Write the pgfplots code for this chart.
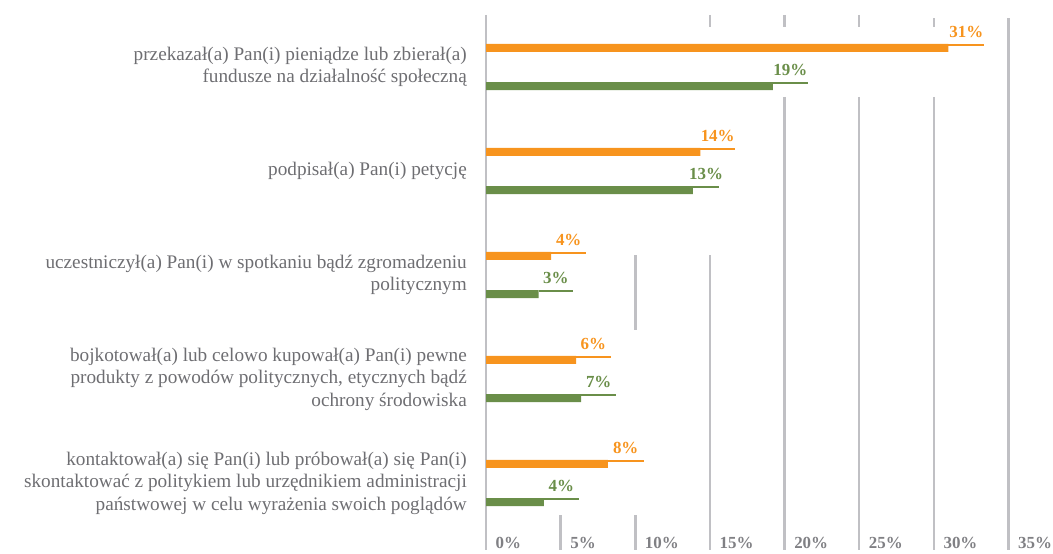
\documentclass[border=0pt]{standalone}
\usepackage{pgfplots}
\pgfplotsset{compat=1.18}
\usepackage{pgfplotstable}
\usepackage{fontspec}
\setmainfont{Liberation Serif}
\definecolor{orangeC}{RGB}{247,148,30}
\definecolor{greenC}{RGB}{106,142,73}
\definecolor{gridC}{RGB}{192,192,196}
\definecolor{catC}{RGB}{110,110,114}
\definecolor{tickC}{RGB}{128,128,132}

% bars: value (as drawn) and vertical position (category 1 at y=4 ... category 5 at y=0)
\pgfplotstableread{
v y
30.98 4.183
14.36 3.183
4.37 2.183
6.03 1.183
8.16 0.183
}\orangebars
\pgfplotstableread{
v y
19.22 3.817
13.86 2.817
3.52 1.817
6.38 0.817
3.88 -0.183
}\greenbars
% label leader lines: centre x, y, half length, label value
\pgfplotstableread{
x y e lab
32.17 4.209 1.19 31
15.52 3.209 1.16 14
5.54 2.209 1.16 4
7.19 1.209 1.15 6
9.36 0.209 1.20 8
}\orangelab
\pgfplotstableread{
x y e lab
20.39 3.843 1.17 19
14.74 2.843 0.87 13
4.68 1.843 1.16 3
7.55 0.843 1.18 7
5.05 -0.157 1.16 4
}\greenlab

\begin{document}
\begin{tikzpicture}
\path[use as bounding box] (0,0) rectangle (1053bp,554bp);
\begin{axis}[
  at={(486bp,4bp)}, anchor=south west,
  scale only axis, width=522.5bp, height=535bp,
  xmin=0, xmax=35, ymin=-0.644, ymax=4.5,
  axis line style={draw=none},
  major tick length=0pt,
  xtick={0,5,10,15,20,25,30,35},
  xticklabels={0\%,5\%,10\%,15\%,20\%,25\%,30\%,35\%},
  xticklabel style={anchor=base west, inner sep=0pt, xshift=9.5bp, yshift=2bp,
    font=\bfseries\fontsize{17}{20}\selectfont, text=tickC},
  ytick={0,1,2,3,4},
  yticklabels={
    {kontaktował(a) się Pan(i) lub próbował(a) się Pan(i)\\skontaktować z politykiem lub urzędnikiem administracji\\państwowej w celu wyrażenia swoich poglądów},
    {bojkotował(a) lub celowo kupował(a) Pan(i) pewne\\produkty z powodów politycznych, etycznych bądź\\ochrony środowiska},
    {uczestniczył(a) Pan(i) w spotkaniu bądź zgromadzeniu\\politycznym},
    {podpisał(a) Pan(i) petycję},
    {przekazał(a) Pan(i) pieniądze lub zbierał(a)\\fundusze na działalność społeczną}},
  yticklabel style={anchor=east, align=right, inner sep=0pt, xshift=-19bp,
    font=\fontsize{19.3}{22.5}\selectfont, text=catC},
  clip=false,
]
% interrupted grid lines
\draw[gridC, line width=2.5bp] (axis cs:0,4.5) -- (axis cs:0,-0.644);
\draw[gridC, line width=2.5bp] (axis cs:5,-0.308) -- (axis cs:5,-0.644);
\draw[gridC, line width=2.5bp] (axis cs:10,2.192) -- (axis cs:10,1.471);
\draw[gridC, line width=2.5bp] (axis cs:10,-0.308) -- (axis cs:10,-0.644);
\draw[gridC, line width=2.5bp] (axis cs:15,4.5) -- (axis cs:15,4.385);
\draw[gridC, line width=2.5bp] (axis cs:15,2.192) -- (axis cs:15,-0.644);
\draw[gridC, line width=2.5bp] (axis cs:20,4.5) -- (axis cs:20,4.385);
\draw[gridC, line width=2.5bp] (axis cs:20,3.712) -- (axis cs:20,-0.644);
\draw[gridC, line width=2.5bp] (axis cs:25,4.5) -- (axis cs:25,4.385);
\draw[gridC, line width=2.5bp] (axis cs:25,3.712) -- (axis cs:25,-0.644);
\draw[gridC, line width=2.5bp] (axis cs:30,4.471) -- (axis cs:30,4.385);
\draw[gridC, line width=2.5bp] (axis cs:30,3.712) -- (axis cs:30,-0.644);
\draw[gridC, line width=2.5bp] (axis cs:35,4.471) -- (axis cs:35,-0.644);

\addplot[xbar, bar width=8bp, bar shift=0pt, fill=orangeC, draw=none] table[x=v, y=y] {\orangebars};
\addplot[xbar, bar width=8bp, bar shift=0pt, fill=greenC, draw=none] table[x=v, y=y] {\greenbars};

\addplot[only marks, mark=none,
  nodes near coords={\pgfplotspointmeta\%}, point meta=explicit symbolic,
  nodes near coords style={anchor=base, inner sep=0pt, yshift=7.5bp,
    font=\bfseries\fontsize{17}{20}\selectfont, text=orangeC},
  error bars/.cd, x dir=both, x explicit, error mark=none,
  error bar style={line width=2bp, draw=orangeC, solid}]
  table[x=x, y=y, x error=e, meta=lab] {\orangelab};
\addplot[only marks, mark=none,
  nodes near coords={\pgfplotspointmeta\%}, point meta=explicit symbolic,
  nodes near coords style={anchor=base, inner sep=0pt, yshift=7.5bp,
    font=\bfseries\fontsize{17}{20}\selectfont, text=greenC},
  error bars/.cd, x dir=both, x explicit, error mark=none,
  error bar style={line width=2bp, draw=greenC, solid}]
  table[x=x, y=y, x error=e, meta=lab] {\greenlab};
\end{axis}
\end{tikzpicture}
\end{document}
